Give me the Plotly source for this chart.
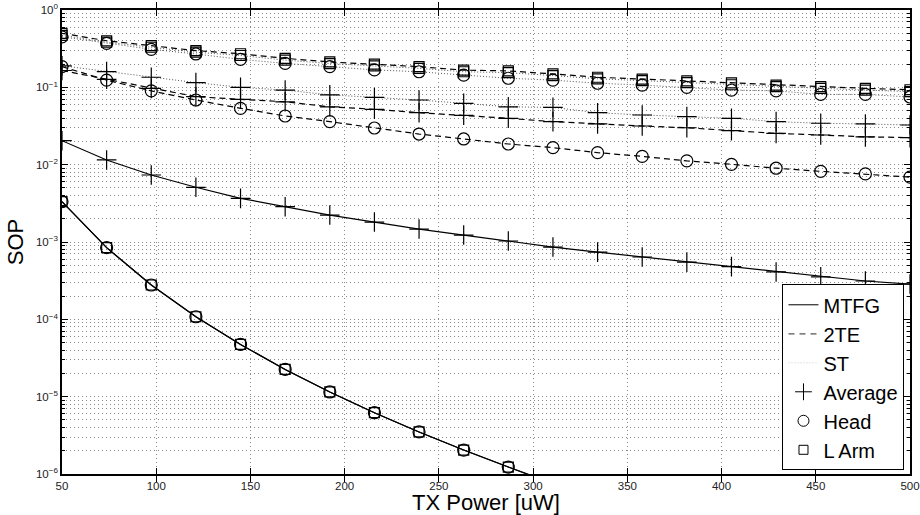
import plotly.graph_objects as go

# ---------------- data ----------------
tx_power = [50.0, 73.68, 97.37, 121.05, 144.74, 168.42, 192.11, 215.79, 239.47, 263.16,
            286.84, 310.53, 334.21, 357.89, 381.58, 405.26, 428.95, 452.63, 476.32, 500.0]

mtfg_average = [0.0204, 0.0115, 0.00735, 0.0051, 0.00367, 0.00286, 0.00223, 0.00181, 0.00147, 0.00123,
                0.00103, 0.00086, 0.00074, 0.00064, 0.00055, 0.00048, 0.00041, 0.000355, 0.000313, 0.000286]
mtfg_head = [3.32e-3, 8.45e-4, 2.78e-4, 1.08e-4, 4.74e-5, 2.25e-5, 1.15e-5, 6.2e-6, 3.5e-6, 2.04e-6,
             1.23e-6, 7.4e-7, 4.6e-7, 2.9e-7, 1.85e-7, 1.2e-7, 7.8e-8, 5.1e-8, 3.4e-8, 2.3e-8]
mtfg_larm = [3.32e-3, 8.45e-4, 2.78e-4, 1.08e-4, 4.74e-5, 2.25e-5, 1.15e-5, 6.2e-6, 3.5e-6, 2.04e-6,
             1.23e-6, 7.4e-7, 4.6e-7, 2.9e-7, 1.85e-7, 1.2e-7, 7.8e-8, 5.1e-8, 3.4e-8, 2.3e-8]

te2_average = [0.165, 0.127, 0.097, 0.0757, 0.070, 0.065, 0.056, 0.052, 0.047, 0.0435,
               0.0398, 0.036, 0.0336, 0.0316, 0.030, 0.0275, 0.0254, 0.0242, 0.0229, 0.0224]
te2_head = [0.185, 0.124, 0.090, 0.0686, 0.0535, 0.0426, 0.036, 0.0298, 0.0249, 0.0215,
            0.0185, 0.0166, 0.0143, 0.0128, 0.0112, 0.0101, 0.0090, 0.0082, 0.0076, 0.0069]
te2_larm = [0.50, 0.40, 0.346, 0.298, 0.272, 0.237, 0.213, 0.200, 0.185, 0.167,
            0.163, 0.149, 0.135, 0.128, 0.121, 0.114, 0.107, 0.102, 0.097, 0.093]

st_average = [0.19, 0.16, 0.135, 0.115, 0.100, 0.092, 0.080, 0.074, 0.0686, 0.062,
              0.056, 0.055, 0.047, 0.0439, 0.0418, 0.0398, 0.036, 0.0343, 0.0336, 0.0326]
st_head = [0.45, 0.37, 0.31, 0.27, 0.23, 0.204, 0.185, 0.168, 0.159, 0.144,
           0.131, 0.124, 0.113, 0.107, 0.100, 0.092, 0.090, 0.081, 0.081, 0.075]
st_larm = [0.47, 0.385, 0.33, 0.285, 0.258, 0.225, 0.203, 0.19, 0.176, 0.159,
           0.155, 0.142, 0.129, 0.122, 0.115, 0.108, 0.102, 0.097, 0.092, 0.088]

x_ticks = [50, 100, 150, 200, 250, 300, 350, 400, 450, 500]
y_ticks = [1e-6, 1e-5, 1e-4, 1e-3, 1e-2, 1e-1, 1e0]
y_ticktext = ["10<sup>\u22126</sup>", "10<sup>\u22125</sup>", "10<sup>\u22124</sup>", "10<sup>\u22123</sup>",
              "10<sup>\u22122</sup>", "10<sup>\u22121</sup>", "10<sup>0</sup>"]
y_minor = [m * 10.0 ** e for e in range(-6, 0) for m in range(2, 10)]

# ---------------- styles ----------------
DASH_2TE = "6px,4px"
DOT_ST = "1px,2px"
markers = {
    "avg": dict(symbol="cross-thin-open", size=14, color="black", line=dict(color="black", width=1.2)),
    "head": dict(symbol="circle-open", size=12, color="black", line=dict(color="black", width=1.2)),
    "larm": dict(symbol="square-open", size=10, color="black", line=dict(color="black", width=1.2)),
}

fig = go.Figure()

def add(y, dash, mk, color="black", width=1.2):
    fig.add_trace(go.Scatter(
        x=tx_power, y=y, mode="lines+markers",
        line=dict(color=color, width=width, dash=dash),
        marker=markers[mk], showlegend=False, cliponaxis=True))

add(st_average, DOT_ST, "avg", color="#555555", width=1)
add(st_head, DOT_ST, "head", color="#555555", width=1)
add(st_larm, DOT_ST, "larm", color="#555555", width=1)
add(te2_average, DASH_2TE, "avg")
add(te2_head, DASH_2TE, "head")
add(te2_larm, DASH_2TE, "larm")
add(mtfg_average, "solid", "avg")
add(mtfg_head, "solid", "head")
add(mtfg_larm, "solid", "larm")

# legend entries
fig.add_trace(go.Scatter(x=[None], y=[None], mode="lines", name="MTFG",
                         line=dict(color="black", width=1)))
fig.add_trace(go.Scatter(x=[None], y=[None], mode="lines", name="2TE",
                         line=dict(color="#555555", width=1.2, dash="6px,5px")))
fig.add_trace(go.Scatter(x=[None], y=[None], mode="lines", name="ST",
                         line=dict(color="#cccccc", width=1, dash=DOT_ST)))
fig.add_trace(go.Scatter(x=[None], y=[None], mode="markers", name="Average",
                         marker=dict(symbol="cross-thin-open", size=12, color="black",
                                     line=dict(color="black", width=1))))
fig.add_trace(go.Scatter(x=[None], y=[None], mode="markers", name="Head",
                         marker=dict(symbol="circle-open", size=11, color="black",
                                     line=dict(color="black", width=1))))
fig.add_trace(go.Scatter(x=[None], y=[None], mode="markers", name="L Arm",
                         marker=dict(symbol="square-open", size=9, color="black",
                                     line=dict(color="black", width=1))))

# minor grid helper axis
fig.add_trace(go.Scatter(x=[None], y=[None], yaxis="y2", showlegend=False))

grid_col = "#8a8a8a"
fig.update_layout(
    width=920, height=515,
    margin=dict(l=62, r=10, t=10, b=41),
    plot_bgcolor="white", paper_bgcolor="white",
    font=dict(family="Liberation Sans, Arial, sans-serif", color="black"),
    xaxis=dict(range=[50, 500], tickvals=x_ticks, ticks="inside", ticklen=6,
               tickcolor="black", mirror="allticks", showline=True, linecolor="black", linewidth=1.5,
               showgrid=True, gridcolor=grid_col, griddash="1px,3px", gridwidth=1,
               tickfont=dict(size=11.5, color="#222222"), zeroline=False, automargin=False,
               title=dict(text="TX Power [uW]", font=dict(size=22), standoff=0)),
    yaxis=dict(type="log", range=[-6, 0], tickvals=y_ticks, ticktext=y_ticktext,
               ticks="inside", ticklen=6, tickcolor="black", mirror="allticks",
               showline=True, linecolor="black", linewidth=1.5,
               showgrid=True, gridcolor=grid_col, griddash="1px,3px", gridwidth=1,
               tickfont=dict(size=11.5, color="#222222"), zeroline=False, automargin=False,
               title=dict(text="SOP", font=dict(size=22), standoff=6)),
    yaxis2=dict(type="log", range=[-6, 0], overlaying="y", side="left",
                tickvals=y_minor, showticklabels=False, ticks="inside", ticklen=3,
                tickcolor="black", mirror="allticks", showline=False,
                showgrid=True, gridcolor=grid_col, griddash="1px,3px", gridwidth=1,
                zeroline=False, automargin=False),
    legend=dict(x=0.9935, y=0.008, xanchor="right", yanchor="bottom",
                bgcolor="white", bordercolor="black", borderwidth=1,
                font=dict(size=20, color="black"), tracegroupgap=0,
                itemwidth=30),
    showlegend=True,
)

fig.write_html("out.html")
